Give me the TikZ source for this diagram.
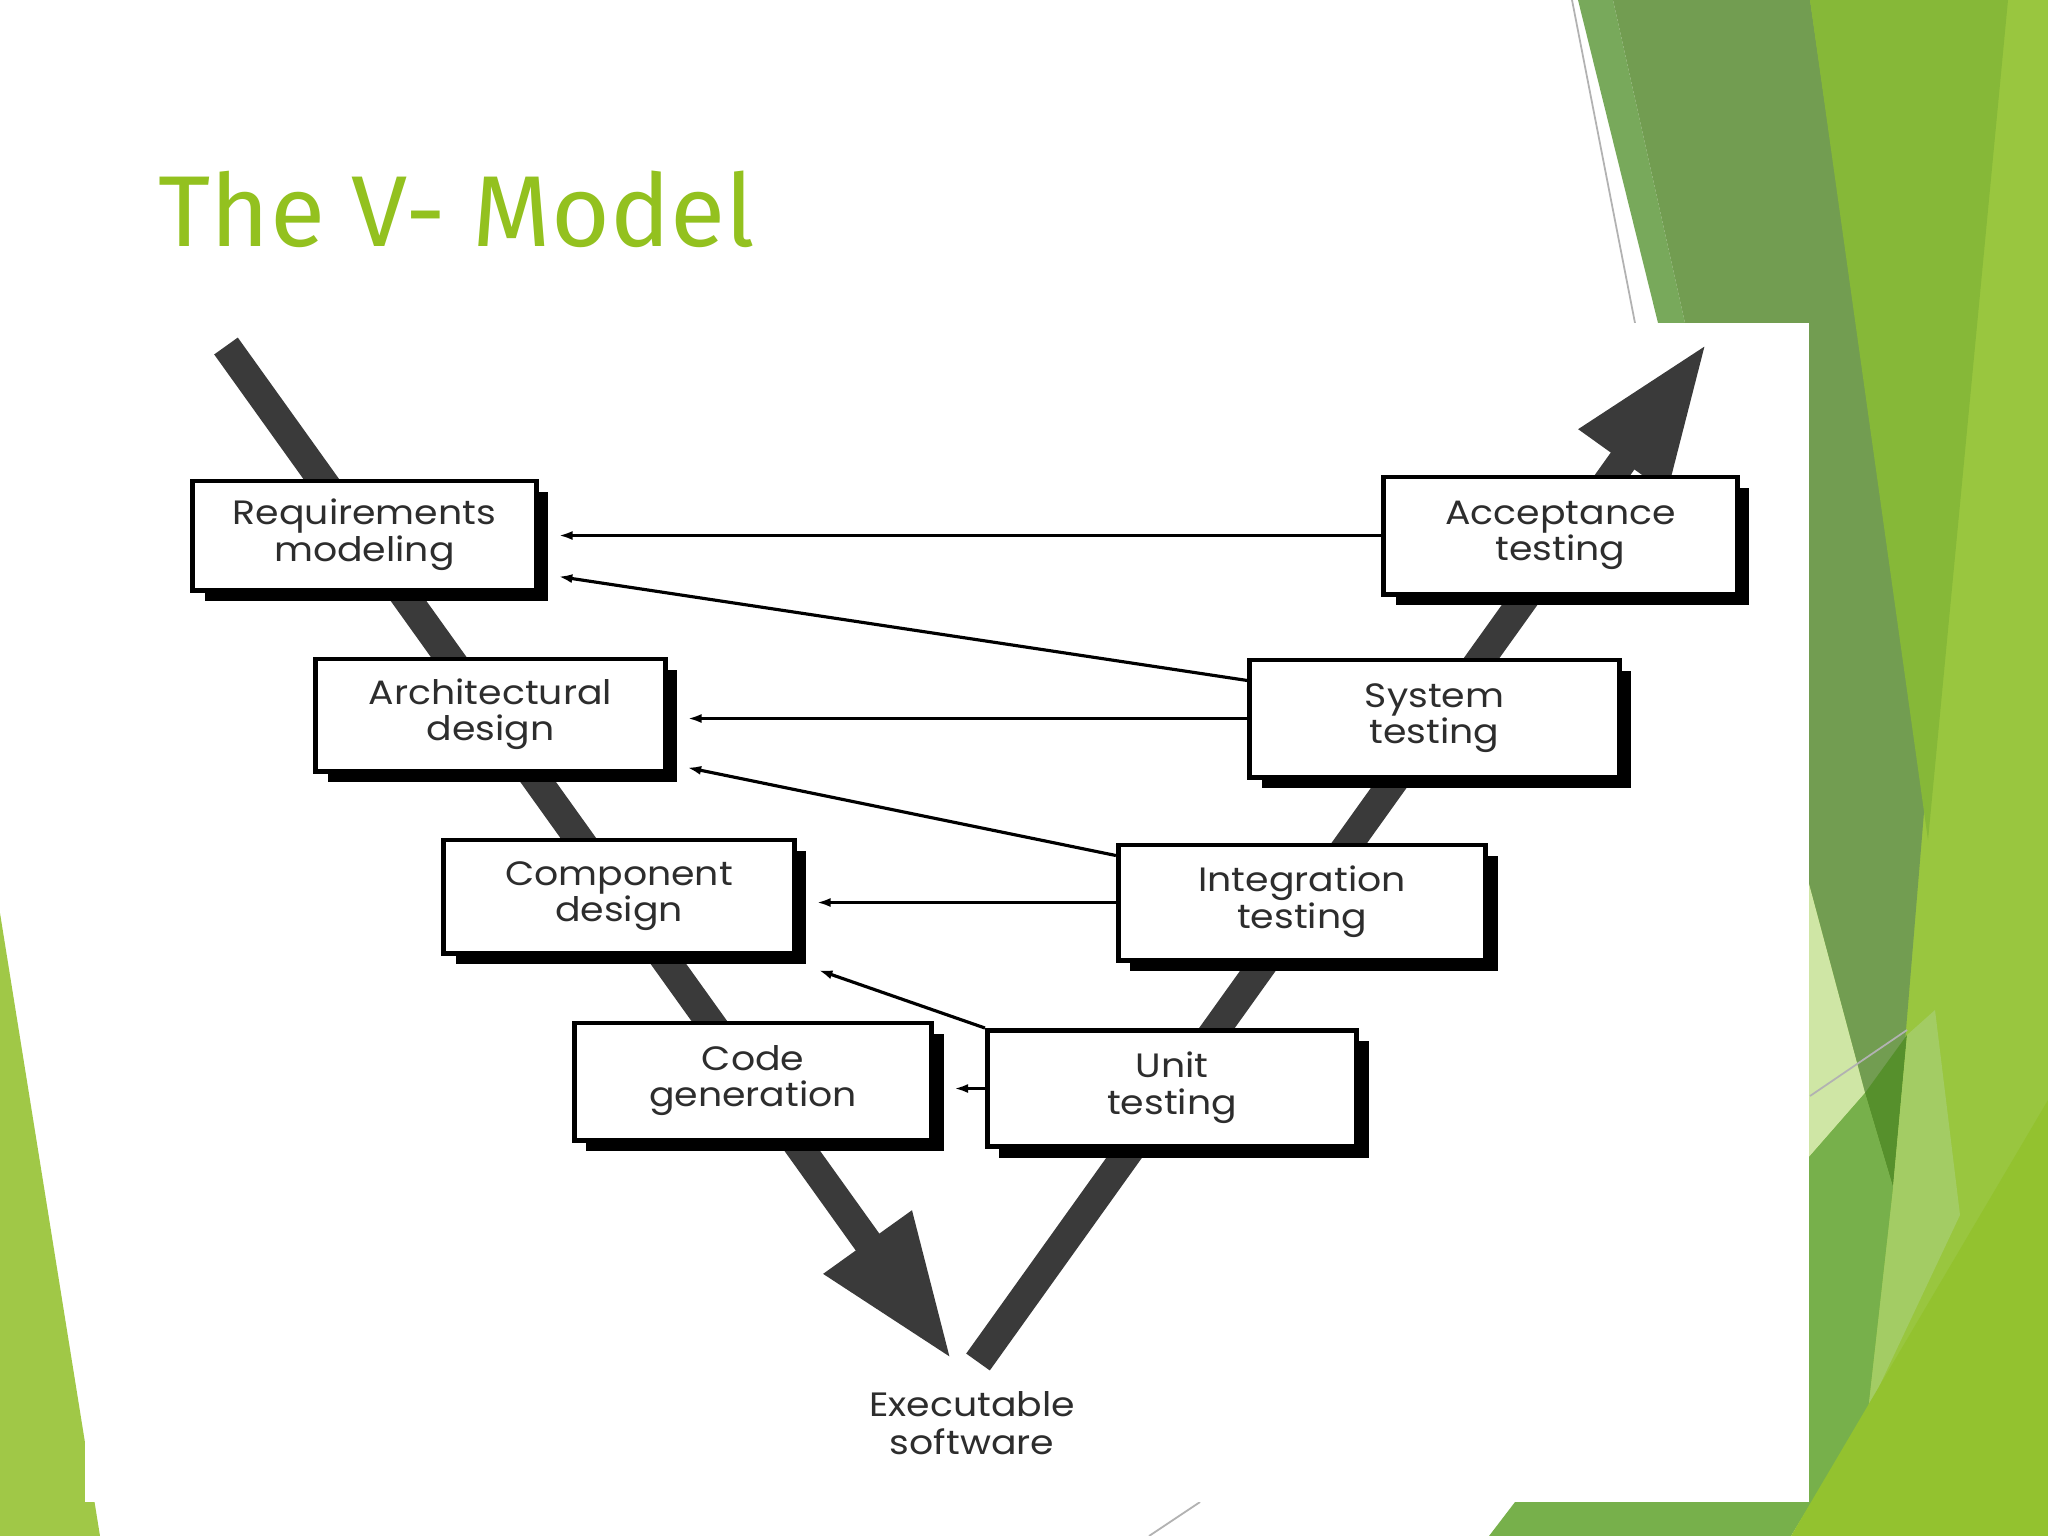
\documentclass[tikz,border=0pt]{standalone}
\usepackage{fontspec}
\usepackage{graphicx}
\setmainfont{Poppins}
\newfontfamily\titlefont{Fira Sans}
\usetikzlibrary{arrows.meta,calc,shadows}
\definecolor{vgreen}{RGB}{147,193,31}
\definecolor{vtext}{RGB}{45,45,45}
\definecolor{vgray}{RGB}{58,58,58}
\definecolor{gstrip}{RGB}{120,169,91}
\definecolor{gdark}{RGB}{114,157,81}
\definecolor{gbright}{RGB}{134,184,56}
\definecolor{glight}{RGB}{153,198,63}
\definecolor{gvlight}{RGB}{207,230,165}
\definecolor{gmed}{RGB}{119,176,75}
\definecolor{gdeep}{RGB}{86,144,44}
\definecolor{gpale}{RGB}{163,204,100}
\definecolor{gyel}{RGB}{147,194,47}
\definecolor{gleft}{RGB}{160,200,71}
\newcommand{\stagetext}[2]{\scalebox{1.12}[1]{\begin{tabular}{@{}c@{}}#1\\#2\end{tabular}}}
\tikzset{
  stage_box/.style = {draw=black, line width=1.4pt, fill=white, inner sep=0pt,
    minimum width=3.55cm, minimum height=1.15cm, text=vtext,
    font=\fontsize{9.6pt}{10pt}\selectfont,
    general shadow={fill=black, shadow xshift=0.12cm, shadow yshift=-0.11cm}},
  v_arm/.style = {draw=vgray, line width=0.29cm, -{Triangle[length=1.45cm,width=1.0cm]}},
  feedback/.style = {-{Latex[length=0.14cm,width=0.09cm]}, line width=0.9pt, shorten >=0.2cm},
  edge_line/.style = {draw=gray!60, line width=0.5pt}
}

\begin{document}
\begin{tikzpicture}[x=0.01cm,y=-0.01cm]
	\useasboundingbox (0,0) rectangle (2048,1536);
	% slide background
	\fill[white] (0,0) rectangle (2048,1536);
	\fill[gleft] (0,913) -- (100,1536) -- (0,1536) -- cycle;
	\fill[glight] (1809,0) rectangle (2048,1536);
	\fill[gstrip] (1578,0) -- (1613,0) -- (1685,323) -- (1658,323) -- cycle;
	\fill[gdark] (1613,0) -- (1810,0) -- (1925,800) -- (1893,1187) -- (1865,1093)
		-- (1809,884) -- (1809,323) -- (1685,323) -- cycle;
	\fill[gbright] (1810,0) -- (2008,0) -- (1928,840) -- cycle;
	\fill[gvlight] (1809,884) -- (1865,1093) -- (1809,1157) -- cycle;
	\fill[gdeep] (1865,1093) -- (1907,1035) -- (1893,1187) -- cycle;
	\fill[gpale] (1907,1035) -- (1935,1010) -- (1960,1215) -- (1868,1410) -- (1893,1187) -- cycle;
	\fill[gmed] (1809,1157) -- (1865,1093) -- (1893,1187) -- (1868,1410) -- (1791,1536)
		-- (1489,1536) -- (1515,1502) -- (1809,1502) -- cycle;
	\fill[gyel] (1791,1536) -- (2048,1100) -- (2048,1536) -- cycle;
	\draw[edge_line] (1572,0) -- (1635,323);
	\draw[edge_line] (1200,1502) -- (1149,1536);
	\draw[edge_line] (1810,1096) -- (1907,1030);
	% pasted picture
	\fill[white] (85,323) rectangle (1809,1502);

	\node[anchor=base west, inner sep=0pt, text=vgreen] (title) at (158,246)
		{\resizebox{5.96cm}{0.755cm}{\titlefont The V- Model}};

	% the two arms of the V
	\coordinate (v_top_left) at (226,346);
	\coordinate (v_tip_left) at (952,1360);
	\coordinate (v_foot_right) at (978,1362);
	\coordinate (v_top_right) at (1707,343);
	\draw[v_arm] (v_top_left) -- (v_tip_left);
	\draw[v_arm] (v_foot_right) -- (v_top_right);

	% stages
	\node[stage_box, minimum width=3.43cm, minimum height=1.09cm] (req) at (364.5,535.5) {\stagetext{Requirements}{modeling}};
	\node[stage_box, minimum width=3.49cm, minimum height=1.12cm] (arch) at (490.5,715) {\stagetext{Architectural}{design}};
	\node[stage_box, minimum width=3.50cm, minimum height=1.13cm] (comp) at (619,896.5) {\stagetext{Component}{design}};
	\node[stage_box, minimum width=3.57cm, minimum height=1.17cm] (code) at (753,1081.5) {\stagetext{Code}{generation}};
	\node[stage_box, minimum width=3.53cm, minimum height=1.17cm] (acc) at (1560.5,535.5) {\stagetext{Acceptance}{testing}};
	\node[stage_box, minimum width=3.69cm, minimum height=1.17cm] (sys) at (1434.5,718.5) {\stagetext{System}{testing}};
	\node[stage_box, minimum width=3.67cm, minimum height=1.15cm] (integ) at (1302,902.5) {\stagetext{Integration}{testing}};
	\node[stage_box, minimum width=3.69cm, minimum height=1.16cm] (unit) at (1172,1088.5) {\stagetext{Unit}{testing}};

	\node[text=vtext, inner sep=0pt, font=\fontsize{9.6pt}{10.8pt}\selectfont] (exe) at (972,1428) {\stagetext{Executable}{software}};

	% feedback arrows
	\draw[feedback] (acc.west) -- (req.east);
	\draw[feedback] ($(sys.north west)+(0,23)$) -- ($(req.south east)+(0,-19)$);
	\draw[feedback] (sys.west) -- (sys.west -| arch.east);
	\draw[feedback] ($(integ.north west)+(0,13)$) -- ($(arch.south east)+(0,-10)$);
	\draw[feedback] (integ.west) -- (integ.west -| comp.east);
	\draw[feedback] (unit.north west) -- ($(comp.south east)+(3,8)$);
	\draw[feedback] (unit.west) -- (unit.west -| code.east);
\end{tikzpicture}
\end{document}
